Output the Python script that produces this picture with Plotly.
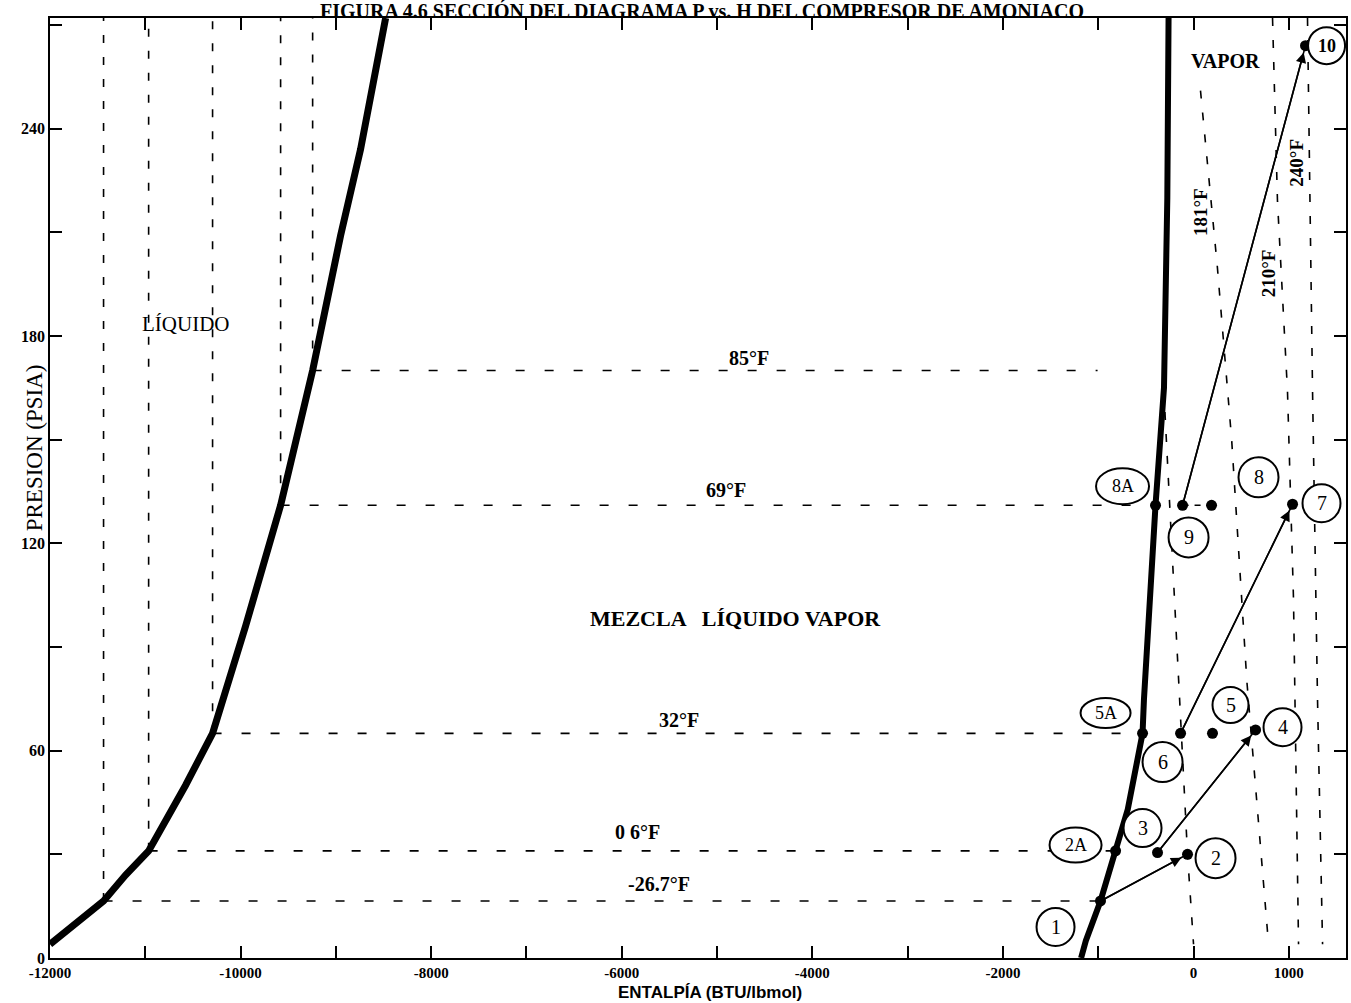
import plotly.graph_objects as go

# ---------------- data ----------------
# saturated liquid curve (enthalpy BTU/lbmol, pressure psia)
liq_h = [-12000, -11438, -11207, -10965, -10577, -10294, -9948, -9580, -9244, -8951, -8741, -8478]
liq_p = [4, 16.5, 24, 31, 50, 65, 96, 131, 170, 209, 234, 272]

# saturated vapor curve
vap_h = [-1180, -1130, -976, -818, -690, -535, -520, -399, -310, -275, -262]
vap_p = [0, 5, 16.5, 31, 43, 65, 75, 131, 165, 220, 272]

# isotherms (mixture: horizontal isobars; liquid: vertical lines)
iso_names = ["-26.7°F", "0 6°F", "32°F", "69°F", "85°F"]
iso_p = [16.5, 31, 65, 131, 170]
iso_h_liq = [-11438, -10965, -10294, -9580, -9244]
iso_h_end = [-976, -818, -535, -399, -1007]
iso_label_h = [-5610, -5830, -5404, -4911, -4670]
iso_label_p = [21.4, 36.4, 68.8, 135.3, 173.5]

# superheated isotherms
t181_h = [73, 250, 400, 560, 787]
t181_p = [251, 200, 150, 80, 4]
t210_h = [829, 881, 986, 1049, 1102]
t210_p = [272, 219, 164, 104, 4]
t240_h = [1196, 1249, 1301, 1354]
t240_p = [272, 164, 75, 4]
tx_h = [-300, -63, 0]
tx_p = [158, 30, 4]
sup_names = ["181°F", "210°F", "240°F"]
sup_label_h = [73, 787, 1081]
sup_label_p = [216, 198, 230]

# process state points
pt_names = ["1", "2", "2A", "3", "4", "5", "5A", "6", "7", "8", "8A", "9", "10"]
pt_h = [-976, -63, -818, -378, 651, 199, -535, -136, 1039, 189, -399, -115, 1175]
pt_p = [16.5, 30, 31, 30.5, 66, 65, 65, 65, 131.3, 131, 131, 131, 264]

# label bubbles for state points
lab_h = [-1448, 231, -1238, -535, 934, 388, -923, -325, 1343, 682, -745, -52, 1396]
lab_p = [9.0, 28.9, 32.7, 37.6, 66.8, 73.2, 70.9, 56.7, 131.6, 139.1, 136.5, 121.7, 264]
lab_w = [38, 40, 52, 38, 38, 36, 50, 40, 38, 40, 53, 40, 37]
lab_hgt = [38, 40, 35, 38, 38, 36, 30, 40, 38, 40, 36, 40, 37]

# compression paths (start, end)
paths = [("1", "2"), ("3", "4"), ("6", "7"), ("9", "10")]
dashed_links = [("9", "8")]

# region labels
reg_text = ["LÍQUIDO", "VAPOR", "MEZCLA   LÍQUIDO VAPOR"]
reg_h = [-10577, 336, -4806]
reg_p = [183.6, 259.7, 98.3]

x_ticks = list(range(-12000, 1001, 1000))
x_ticktext = [str(v) if (v % 2000 == 0 or v == 1000) else "" for v in x_ticks]
y_ticks = list(range(0, 271, 30))
y_ticktext = [str(v) if v % 60 == 0 else "" for v in y_ticks]

SERIF = "Liberation Serif"
idx = {n: i for i, n in enumerate(pt_names)}

fig = go.Figure()

# isobars in mixture region
for i in range(len(iso_p)):
    fig.add_trace(go.Scatter(x=[iso_h_liq[i], iso_h_end[i]], y=[iso_p[i], iso_p[i]], mode="lines",
                             line=dict(color="black", width=1.6, dash="9px,20px"), hoverinfo="skip"))
    # vertical isotherm in liquid region
    fig.add_trace(go.Scatter(x=[iso_h_liq[i], iso_h_liq[i]], y=[iso_p[i], 272], mode="lines",
                             line=dict(color="black", width=1.6, dash="8px,14px"), hoverinfo="skip"))

# superheated isotherms
for hx, px in [(t181_h, t181_p), (t210_h, t210_p), (t240_h, t240_p), (tx_h, tx_p)]:
    fig.add_trace(go.Scatter(x=hx, y=px, mode="lines",
                             line=dict(color="black", width=1.6, dash="8px,14px"), hoverinfo="skip"))

# saturation curves
fig.add_trace(go.Scatter(x=liq_h, y=liq_p, mode="lines", line=dict(color="black", width=7)))
fig.add_trace(go.Scatter(x=vap_h, y=vap_p, mode="lines", line=dict(color="black", width=6)))

# process paths
for a, b in paths:
    fig.add_trace(go.Scatter(x=[pt_h[idx[a]], pt_h[idx[b]]], y=[pt_p[idx[a]], pt_p[idx[b]]],
                             mode="lines", line=dict(color="black", width=1.6)))
for a, b in dashed_links:
    fig.add_trace(go.Scatter(x=[pt_h[idx[a]], pt_h[idx[b]]], y=[pt_p[idx[a]], pt_p[idx[b]]],
                             mode="lines", line=dict(color="black", width=1.6, dash="6px,6px")))

# state points
fig.add_trace(go.Scatter(x=pt_h, y=pt_p, mode="markers",
                         marker=dict(color="black", size=11, line=dict(width=0))))

annotations = []
shapes = []
# arrows
for a, b in paths:
    annotations.append(dict(x=pt_h[idx[b]], y=pt_p[idx[b]], ax=pt_h[idx[a]], ay=pt_p[idx[a]],
                            xref="x", yref="y", axref="x", ayref="y", text="",
                            showarrow=True, arrowhead=2, arrowsize=1.3, arrowwidth=1.6,
                            arrowcolor="black", standoff=7))

# label bubbles
for i, n in enumerate(pt_names):
    shapes.append(dict(type="circle", xref="x", yref="y", xsizemode="pixel", ysizemode="pixel",
                       xanchor=lab_h[i], yanchor=lab_p[i],
                       x0=-lab_w[i] / 2, x1=lab_w[i] / 2, y0=-lab_hgt[i] / 2, y1=lab_hgt[i] / 2,
                       line=dict(color="black", width=2), fillcolor="white", layer="above"))
    annotations.append(dict(x=lab_h[i], y=lab_p[i], xref="x", yref="y", text=n, showarrow=False,
                            font=dict(family=SERIF, size=20 if len(n) == 1 else 18, color="black",
                                      weight="bold" if n == "10" else "normal")))

# isotherm labels
for i, t in enumerate(iso_names):
    annotations.append(dict(x=iso_label_h[i], y=iso_label_p[i], xref="x", yref="y", text=t,
                            showarrow=False, font=dict(family=SERIF, size=20, color="black", weight="bold")))
for i, t in enumerate(sup_names):
    annotations.append(dict(x=sup_label_h[i], y=sup_label_p[i], xref="x", yref="y", text=t,
                            textangle=-90, showarrow=False,
                            font=dict(family=SERIF, size=19, color="black", weight="bold")))

# region labels
reg_sizes = [21, 20, 22]
for i, t in enumerate(reg_text):
    annotations.append(dict(x=reg_h[i], y=reg_p[i], xref="x", yref="y", text=t, showarrow=False,
                            font=dict(family=SERIF, size=reg_sizes[i], color="black",
                                      weight="normal" if i == 0 else "bold")))

# title and axis titles
annotations.append(dict(x=0.503, y=1, xref="paper", yref="paper", yanchor="top", yshift=21,
                        text="FIGURA 4.6 SECCIÓN DEL DIAGRAMA P vs. H DEL COMPRESOR DE AMONIACO",
                        showarrow=False, font=dict(family=SERIF, size=20, color="black", weight="bold")))
annotations.append(dict(x=0.509, y=-0.0479, xref="paper", yref="paper", yanchor="bottom",
                        text="ENTALPÍA (BTU/lbmol)", showarrow=False, borderpad=0,
                        font=dict(family="Liberation Sans", size=17, color="black", weight="bold")))
annotations.append(dict(x=-0.023, y=0.543, xref="paper", yref="paper", textangle=-90,
                        text="PRESION (PSIA)", showarrow=False,
                        font=dict(family=SERIF, size=23, color="black")))

fig.update_layout(
    width=1351, height=1003,
    margin=dict(l=50, r=5, t=18, b=45),
    paper_bgcolor="white", plot_bgcolor="white",
    showlegend=False,
    annotations=annotations, shapes=shapes,
    xaxis=dict(range=[-12000, 1600], tickvals=x_ticks, ticktext=x_ticktext,
               ticks="inside", ticklen=12, tickwidth=1.5, tickcolor="black",
               showline=True, linecolor="black", linewidth=1.5, mirror="ticks",
               showgrid=False, zeroline=False, automargin=False,
               tickfont=dict(family=SERIF, size=15, color="black", weight="bold")),
    yaxis=dict(range=[0, 272], tickvals=y_ticks, ticktext=y_ticktext,
               ticks="inside", ticklen=12, tickwidth=1.5, tickcolor="black",
               showline=True, linecolor="black", linewidth=1.5, mirror="ticks",
               showgrid=False, zeroline=False, automargin=False,
               tickfont=dict(family=SERIF, size=16, color="black", weight="bold")),
)

fig.write_html("out.html", config={"displayModeBar": False},
               post_script="document.body.style.margin='0';document.body.style.overflow='hidden';")
